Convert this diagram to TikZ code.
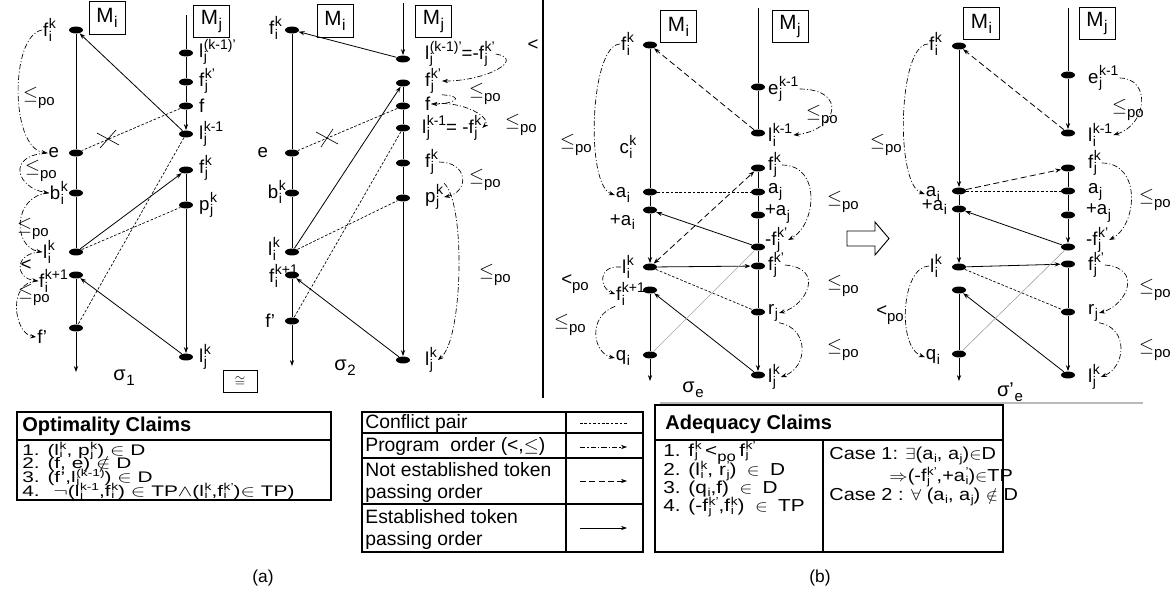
\documentclass[tikz,border=0pt]{standalone}
\usepackage{fontspec}
\setmainfont{Liberation Sans}
\usetikzlibrary{arrows.meta,shapes.geometric}

% event labels: base letter with a stacked subscript and superscript
\newsavebox\supbx
\newsavebox\subbx
\newlength\scrw
\newcommand{\scrscale}{0.75}
\newcommand{\supraise}{0.42em}
\newcommand{\subdrop}{-0.24em}
\newcommand{\tightscripts}{\renewcommand{\scrscale}{0.66}\renewcommand{\supraise}{0.36em}\renewcommand{\subdrop}{-0.15em}}
\newcommand{\ssc}[3]{\mbox{#1\kern0.03em\sbox\supbx{\scalebox{\scrscale}{#3}}\sbox\subbx{\scalebox{\scrscale}{#2}}%
  \setlength\scrw{\wd\supbx}\ifdim\wd\subbx>\scrw\setlength\scrw{\wd\subbx}\fi
  \rlap{\raisebox{\supraise}{\usebox\supbx}}\rlap{\raisebox{\subdrop}{\usebox\subbx}}\hspace{\scrw}}}
\newcommand{\sbs}[2]{\mbox{#1\kern0.03em\raisebox{\subdrop}{\scalebox{\scrscale}{#2}}}}
\newcommand{\lepo}{\mbox{$\leq$\raisebox{-0.3em}{\scalebox{0.8}{po}}}}
\newcommand{\ltpo}{\mbox{<\raisebox{-0.3em}{\scalebox{0.8}{po}}}}
\newcommand{\labfont}{\fontsize{14}{16}\selectfont}

\begin{document}
\begin{tikzpicture}[x=0.75pt,y=-0.75pt,line width=0.6pt,
  >={Stealth[length=4.5pt,width=3.2pt]},
  dot/.style={ellipse,fill=black,draw=none,inner sep=0pt,minimum width=10.5pt,minimum height=5.2pt},
  lr/.style={anchor=west,inner sep=0.5pt,font=\labfont},
  ll/.style={anchor=east,inner sep=0.5pt,font=\labfont},
  pol/.style={inner sep=0pt,font=\labfont},
  mbox/.style={draw,line width=0.7pt,inner sep=0pt,minimum width=27pt,minimum height=24.5pt,font=\fontsize{15.5}{17}\selectfont},
  est/.style={->},
  nest/.style={->,dash pattern=on 4.5pt off 2.5pt},
  conf/.style={line width=0.5pt,dash pattern=on 2pt off 1.3pt},
  po/.style={->,line width=0.5pt,dash pattern=on 4pt off 1.6pt on 0.8pt off 1.6pt},
  cgray/.style={gray!70,line width=0.5pt},
  tbl/.style={line width=1pt},
  cellt/.style={anchor=west,inner sep=0pt},
  xmark/.style={line width=0.5pt}
]
\useasboundingbox (0,0) rectangle (1174,594);

% ================= sigma_1 =================
\node[mbox] (m1i) at (107,18) {\sbs{M}{i}};
\node[mbox] (m1j) at (211.5,21.5) {\sbs{M}{j}};
\node[dot] (a1) at (76,30) {};
\node[dot] (a2) at (76,153) {};
\node[dot] (a3) at (76,193) {};
\node[dot] (a4) at (76,252) {};
\node[dot] (a5) at (76,275) {};
\node[dot] (a6) at (76,328) {};
\coordinate (a7) at (76,372);
\coordinate (b0) at (186,15);
\node[dot] (b1) at (186,53) {};
\node[dot] (b2) at (186,82) {};
\node[dot] (b3) at (186,106) {};
\node[dot] (b4) at (186,134) {};
\node[dot] (b5) at (186,170) {};
\node[dot] (b6) at (186,205) {};
\node[dot] (b7) at (186,357) {};
\draw (a1) -- (a2) -- (a3) -- (a4);
\draw[->] (a5) -- (a6) -- (a7);
\draw[->] (b0) -- (b1) -- (b2) -- (b3) -- (b4);
\draw[->] (b5) -- (b6) -- (b7);

\node[ll] (la1) at (57,30) {\ssc{f}{i}{k}};
\node[ll] (la2) at (60,153) {e};
\node[ll] (la3) at (69,193) {\ssc{b}{i}{k}};
\node[ll] (la4) at (56,252) {\ssc{l}{i}{k}};
\node[ll] (la5) at (69,281) {\ssc{f}{i}{k+1}};
\node[ll] (la6) at (48,337) {f’};
\node[lr] (lb1) at (198,52) {\ssc{l}{j}{(k-1)’}};
\node[lr] (lb2) at (198,81) {\ssc{f}{j}{k’}};
\node[lr] (lb3) at (198,106) {f};
\node[lr] (lb4) at (198,134) {\ssc{l}{j}{k-1}};
\node[lr] (lb5) at (198,168) {\ssc{f}{j}{k}};
\node[lr] (lb6) at (198,205) {\ssc{p}{j}{k}};
\node[lr] (lb7) at (198,357) {\ssc{l}{j}{k}};

\draw[po] (la1.west) .. controls +(-32,5) and +(-38,-5) .. (la2.west);
\node[pol] at (39,98) {\lepo};
\draw[po] (la2.west) .. controls +(-42,2) and +(-32,-5) .. (la3.west);
\node[pol] at (41,171) {\lepo};
\draw[po] (la3.west) .. controls +(-36,2) and +(-30,-5) .. (la4.west);
\node[pol] at (33,229) {\lepo};
\draw[po] (la4.west) .. controls +(-28,0) and +(-24,-3) .. (la5.west);
\node[pol] at (26,265) {<};
\draw[po] (la5.west) .. controls +(-32,0) and +(-22,-3) .. (la6.west);
\node[pol] at (34,295) {\lepo};

\draw[est] (b4) -- (a1);
\draw[conf] (b3) -- (a2);
\coordinate (x1) at (108,139);
\draw[xmark] (x1) ++(-11,-6) -- ++(22,12);
\draw[xmark] (x1) ++(-8,9) -- ++(16,-18);
\draw[conf] (b4) -- (a6);
\draw[est] (a4) -- (b5);
\draw[conf] (a4) -- (b6);
\draw[est] (b7) -- (a5);

\node[font=\fontsize{15}{17}\selectfont] (s1) at (124,378) {\sbs{σ}{1}};
\node[draw,line width=0.7pt,minimum width=25.5pt,minimum height=17pt,inner sep=0pt] (cong) at (240,381.5) {$\cong$};

% ================= sigma_2 =================
\node[mbox] (m2i) at (335,21) {\sbs{M}{i}};
\node[mbox] (m2j) at (433.5,21.5) {\sbs{M}{j}};
\node[dot] (c1) at (292,30) {};
\node[dot] (c2) at (292,153) {};
\node[dot] (c3) at (292,193) {};
\node[dot] (c4) at (292,252) {};
\node[dot] (c5) at (292,275) {};
\node[dot] (c6) at (292,321) {};
\coordinate (c7) at (292,366);
\coordinate (d0) at (403,3);
\node[dot] (d1) at (403,59) {};
\node[dot] (d2) at (403,83) {};
\node[dot] (d3) at (403,106) {};
\node[dot] (d4) at (403,128) {};
\node[dot] (d5) at (403,163) {};
\node[dot] (d6) at (403,198) {};
\node[dot] (d7) at (403,360) {};
\draw (c1) -- (c2) -- (c3) -- (c4);
\draw[->] (c5) -- (c6) -- (c7);
\draw[->] (d0) -- (d1);
\draw[->] (d2) -- (d3) -- (d4) -- (d5) -- (d6) -- (d7);

\node[ll] (lc1) at (283,28) {\ssc{f}{i}{k}};
\node[ll] (lc2) at (269,153) {e};
\node[ll] (lc3) at (287,192) {\ssc{b}{i}{k}};
\node[ll] (lc4) at (281,249) {\ssc{l}{i}{k}};
\node[ll] (lc5) at (299,276) {\ssc{f}{i}{k+1}};
\node[ll] (lc6) at (276,321) {f’};
\node[lr] (ld1) at (424,54) {\ssc{l}{j}{(k-1)’}=-\ssc{f}{j}{k’}};
\node[lr] (ld2) at (424,81) {\ssc{f}{j}{k’}};
\node[lr] (ld3) at (424,104) {f};
\node[lr] (ld4) at (421,128) {\ssc{l}{j}{k-1}= -\ssc{f}{j}{k}};
\node[lr] (ld5) at (424,162) {\ssc{f}{j}{k}};
\node[lr] (ld6) at (424,197) {\ssc{p}{j}{k}};
\node[lr] (ld7) at (424,360) {\ssc{l}{j}{k}};

\draw[po] (ld1.east) .. controls +(30,5) and +(45,0) .. (ld2.east);
\node[pol] at (533,45) {<};
\draw[po] (ld2.south east) .. controls +(25,2) and +(22,0) .. (ld3.east);
\node[pol] at (485,94) {\lepo};
\draw[po] (ld3.east) .. controls +(32,-4) and +(10,-10) .. (ld4.east);
\node[pol] at (521,125) {\lepo};
\draw[po] (ld5.east) .. controls +(30,0) and +(25,-5) .. (ld6.east);
\node[pol] at (485,180) {\lepo};
\draw[po] (ld6.north east) .. controls +(22,20) and +(25,-20) .. (ld7.east);
\node[pol] at (495,275) {\lepo};

\draw[est] (d1) -- (c1);
\draw[conf] (d3) -- (c2);
\coordinate (x2) at (327,138);
\draw[xmark] (x2) ++(-11,-6) -- ++(22,12);
\draw[xmark] (x2) ++(-6,9) -- ++(12,-18);
\draw[est] (c4) -- (d2);
\draw[conf] (d4) -- (c6);
\draw[conf] (c4) -- (d6);
\draw[est] (d7) -- (c5);

\node[font=\fontsize{15}{17}\selectfont] (s2) at (345,368) {\sbs{σ}{2}};

% divider between (a) and (b)
\draw[line width=2pt] (543,0) -- (543,398);

% ================= sigma_e =================
\node[mbox] (m3i) at (678.5,26.5) {\sbs{M}{i}};
\node[mbox] (m3j) at (790,26.5) {\sbs{M}{j}};
\node[dot] (e1) at (650,45) {};
\node[dot] (e2) at (650,192) {};
\node[dot] (e3) at (650,210) {};
\node[dot] (e4) at (650,267) {};
\node[dot] (e5) at (650,290) {};
\node[dot] (e6) at (650,355) {};
\coordinate (e7) at (650,381);
\coordinate (f0) at (758,8);
\node[dot] (f1) at (758,87) {};
\node[dot] (f2) at (758,133) {};
\node[dot] (f3) at (758,168) {};
\node[dot] (f4) at (758,192) {};
\node[dot] (f5) at (758,215) {};
\node[dot] (f6) at (758,247) {};
\node[dot] (f7) at (758,266) {};
\node[dot] (f8) at (758,312) {};
\node[dot] (f9) at (758,375) {};
\draw (e1) -- (e2) -- (e3);
\draw[->] (e3) -- (e4);
\draw[->] (e5) -- (e6) -- (e7);
\draw (f0) -- (f1) -- (f2);
\draw[->] (f3) -- (f4) -- (f5) -- (f6) -- (f7) -- (f8) -- (f9);

\node[ll] (le1) at (635,44) {\ssc{f}{i}{k}};
\node[pol] (lcc) at (628,147) {\ssc{c}{i}{k}};
\node[ll] (le2) at (631,195) {\sbs{a}{i}};
\node[ll] (le3) at (636,222) {+\sbs{a}{i}};
\node[ll] (le4) at (635,267) {\ssc{l}{i}{k}};
\node[ll] (le5) at (646,294) {\ssc{f}{i}{k+1}};
\node[ll] (le6) at (631,358) {\sbs{q}{i}};
\node[lr] (lf1) at (767,89) {\ssc{e}{j}{k-1}};
\node[lr] (lf2) at (767,135) {\ssc{l}{i}{k-1}};
\node[lr] (lf3) at (767,165) {\ssc{f}{j}{k}};
\node[lr] (lf4) at (767,192) {\sbs{a}{j}};
\node[lr] (lf5) at (764,214) {+\sbs{a}{j}};
\node[lr] (lf6) at (764,240) {-\ssc{f}{j}{k’}};
\node[lr] (lf7) at (767,265) {\ssc{f}{j}{k’}};
\node[lr] (lf8) at (767,313) {\sbs{r}{j}};
\node[lr] (lf9) at (767,377) {\ssc{l}{j}{k}};

\draw[po] (le1.west) .. controls +(-30,0) and +(-30,-10) .. (le2.west);
\node[pol] at (576,145) {\lepo};
\draw[po] (le4.west) .. controls +(-25,-2) and +(-15,-5) .. (le5.west);
\node[pol] at (575,284) {\ltpo};
\draw[po] (le5.south west) .. controls +(-28,10) and +(-22,-5) .. (le6.west);
\node[pol] at (570,325) {\lepo};
\draw[po] (lf1.east) .. controls +(48,0) and +(45,-5) .. (lf2.east);
\node[pol] at (822,116) {\lepo};
\draw[po] (lf3.east) .. controls +(40,0) and +(28,-15) .. (lf6.east);
\node[pol] at (843,202) {\lepo};
\draw[po] (lf7.east) .. controls +(40,3) and +(28,-8) .. (lf8.east);
\node[pol] at (843,286) {\lepo};
\draw[po] (lf8.south east) .. controls +(30,5) and +(28,-10) .. (lf9.east);
\node[pol] at (843,350) {\lepo};

\draw[nest] (f2) -- (e1);
\draw[conf] (e2) -- (f4);
\draw[nest,<->] (e4) -- (f3);
\draw[est] (f6) -- (e3);
\draw[est] (e4) -- (f7);
\draw[conf] (e4) -- (f8);
\draw[est] (f9) -- (e5);
\draw[cgray] (e6) -- (f6);

\node[font=\fontsize{15}{17}\selectfont] (s3) at (693,390) {\sbs{σ}{e}};

% transformation arrow
\draw[line width=0.7pt] (847,231) -- (875,231) -- (875,222) -- (889,238.5) -- (875,255) -- (875,246) -- (847,246) -- cycle;

% ================= sigma'_e =================
\node[mbox] (m4i) at (981.5,23.5) {\sbs{M}{i}};
\node[mbox] (m4j) at (1097,23.5) {\sbs{M}{j}};
\node[dot] (g1) at (959,46) {};
\node[dot] (g2) at (959,191) {};
\node[dot] (g3) at (959,209) {};
\node[dot] (g4) at (959,267) {};
\node[dot] (g5) at (959,290) {};
\node[dot] (g6) at (959,354) {};
\coordinate (g7) at (959,381);
\coordinate (h0) at (1068,8);
\node[dot] (h1) at (1068,75) {};
\node[dot] (h2) at (1068,133) {};
\node[dot] (h3) at (1068,168) {};
\node[dot] (h4) at (1068,191) {};
\node[dot] (h5) at (1068,215) {};
\node[dot] (h6) at (1068,247) {};
\node[dot] (h7) at (1068,264) {};
\node[dot] (h8) at (1068,312) {};
\node[dot] (h9) at (1068,375) {};
\draw[->] (g1) -- (g2);
\draw (g2) -- (g3);
\draw[->] (g3) -- (g4);
\draw[->] (g5) -- (g6) -- (g7);
\draw[->] (h0) -- (h1) -- (h2);
\draw[->] (h3) -- (h4) -- (h5) -- (h6);
\draw[->] (h7) -- (h8) -- (h9);

\node[ll] (lg1) at (943,44) {\ssc{f}{i}{k}};
\node[ll] (lg2) at (941,194) {\sbs{a}{i}};
\node[ll] (lg3) at (948,207) {+\sbs{a}{i}};
\node[ll] (lg4) at (943,266) {\ssc{l}{i}{k}};
\node[ll] (lg6) at (941,357) {\sbs{q}{i}};
\node[lr] (lh1) at (1087,78) {\ssc{e}{j}{k-1}};
\node[lr] (lh2) at (1087,135) {\ssc{l}{i}{k-1}};
\node[lr] (lh3) at (1087,163) {\ssc{f}{j}{k}};
\node[lr] (lh4) at (1087,192) {\sbs{a}{j}};
\node[lr] (lh5) at (1085,213) {+\sbs{a}{j}};
\node[lr] (lh6) at (1085,240) {-\ssc{f}{j}{k’}};
\node[lr] (lh7) at (1087,265) {\ssc{f}{j}{k’}};
\node[lr] (lh8) at (1087,313) {\sbs{r}{j}};
\node[lr] (lh9) at (1087,377) {\ssc{l}{j}{k}};

\draw[po] (lg1.west) .. controls +(-30,0) and +(-30,-10) .. (lg2.west);
\node[pol] at (886,145) {\lepo};
\draw[po] (lg4.west) .. controls +(-28,0) and +(-28,-10) .. (lg6.west);
\node[pol] at (890,315) {\ltpo};
\draw[po] (lh1.east) .. controls +(32,0) and +(34,-10) .. (lh2.east);
\node[pol] at (1128,110) {\lepo};
\draw[po] (lh3.east) .. controls +(40,0) and +(28,-15) .. (lh6.east);
\node[pol] at (1155,200) {\lepo};
\draw[po] (lh7.east) .. controls +(38,3) and +(28,-8) .. (lh8.east);
\node[pol] at (1155,290) {\lepo};
\draw[po] (lh8.south east) .. controls +(30,5) and +(25,-10) .. (lh9.east);
\node[pol] at (1155,350) {\lepo};

\draw[nest] (h2) -- (g1);
\draw[nest] (g2) -- (h3);
\draw[conf] (g2) -- (h4);
\draw[est] (h6) -- (g3);
\draw[est] (g4) -- (h7);
\draw[conf] (g4) -- (h8);
\draw[est] (h9) -- (g5);
\draw[cgray] (g6) -- (h6);

\node[font=\fontsize{15}{17}\selectfont] (s4) at (1010,392) {\sbs{σ’}{e}};

\draw[gray!55,line width=0.8pt] (660,403) -- (1143,403);

% ================= Optimality claims =================
\draw[tbl] (17,412) rectangle (331,500);
\draw[tbl] (17,440) -- (331,440);
\node[cellt,font=\bfseries\fontsize{15}{17}\selectfont] (ot) at (22,426) {Optimality Claims};
\begin{scope}[every node/.style={cellt,font=\fontsize{11.5}{13}\selectfont\tightscripts}]
\node (o1) at (22,451) {\scalebox{1.36}[1]{1. (\ssc{l}{i}{k}, \ssc{p}{j}{k}) $\in$ D}};
\node (o2) at (22,464.5) {\scalebox{1.36}[1]{2. (f, e) $\notin$ D}};
\node (o3) at (22,478) {\scalebox{1.36}[1]{3. (f’,\ssc{l}{j}{(k-1)}) $\in$ D}};
\node (o4) at (22,492) {\scalebox{1.36}[1]{4. \ $\neg$(\ssc{l}{j}{k-1},\ssc{f}{i}{k}) $\in$ TP$\wedge$(\ssc{l}{i}{k},\ssc{f}{i}{k’})$\in$ TP)}};
\end{scope}
\node[font=\fontsize{13}{15}\selectfont] (capa) at (263,578) {(a)};

% ================= legend =================
\draw[tbl] (362,412) rectangle (643,552);
\draw[tbl] (566,412) -- (566,552);
\draw[tbl] (362,433) -- (643,433);
\draw[tbl] (362,458) -- (643,458);
\draw[tbl] (362,504) -- (643,504);
\begin{scope}[every node/.style={cellt,font=\fontsize{14.5}{16}\selectfont}]
\node (k1) at (365,423) {Conflict pair};
\node (k2) at (365,446) {Program\ \ order (<,$\leq$)};
\node (k3) at (365,470) {Not established token};
\node (k4) at (365,493) {passing order};
\node (k5) at (365,517) {Established token};
\node (k6) at (365,540) {passing order};
\end{scope}
\draw[conf] (580,423) -- (627,423);
\draw[po] (580,447) -- (627,447);
\draw[nest] (580,481) -- (627,481);
\draw[est] (580,528) -- (627,528);

% ================= adequacy claims =================
\draw[tbl] (655,405) rectangle (1003,552);
\draw[tbl] (655,440) -- (1003,440);
\draw[tbl] (823,440) -- (823,552);
\node[cellt,font=\bfseries\fontsize{15}{17}\selectfont] (at) at (665,424) {Adequacy Claims};
\begin{scope}[every node/.style={cellt,font=\fontsize{13}{14}\selectfont\tightscripts}]
\node (q1) at (663,453) {\scalebox{1.2}[1]{1. \ssc{f}{j}{k}\,\ltpo\,\ssc{f}{j}{k’}}};
\node (q2) at (663,471) {\scalebox{1.2}[1]{2. (\ssc{l}{i}{k}, \ssc{r}{j}{’})\enspace$\in$\enspace D}};
\node (q3) at (663,489) {\scalebox{1.2}[1]{3. (\sbs{q}{i},f)\enspace$\in$\enspace D}};
\node (q4) at (663,507) {\scalebox{1.2}[1]{4. (-\ssc{f}{j}{k’},\ssc{f}{i}{k})\enspace$\in$\enspace TP}};
\node (r1) at (829,456) {\scalebox{1.15}[1]{Case 1: $\exists$(\sbs{a}{i}, \sbs{a}{j})$\in$D}};
\node (r2) at (889,477) {\scalebox{1.15}[1]{$\Rightarrow$(-\ssc{f}{j}{k’},+\ssc{a}{i}{’})$\in$TP}};
\node (r3) at (829,497) {\scalebox{1.15}[1]{Case 2 : $\forall$ (\sbs{a}{i}, \sbs{a}{j}) $\notin$ D}};
\end{scope}
\node[font=\fontsize{13}{15}\selectfont] (capb) at (820,578) {(b)};

\end{tikzpicture}
\end{document}
